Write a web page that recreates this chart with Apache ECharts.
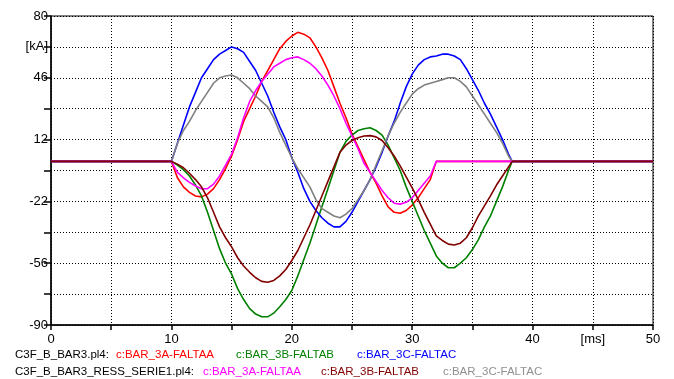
<!DOCTYPE html>
<html>
<head>
<meta charset="utf-8">
<script src="https://cdn.jsdelivr.net/npm/echarts@6/dist/echarts.min.js"></script>
<style>
  html, body { margin: 0; padding: 0; background: #fff; }
  #chart { width: 674px; height: 379px; }
</style>
</head>
<body>
<div id="chart"></div>
<script>
// time axis [ms], shared by all six traces
var timeMs = [0,
  10, 10.5, 11, 11.5, 12, 12.5, 13, 13.5, 14, 14.5, 15, 15.5, 16, 16.5, 17, 17.5, 18, 18.5, 19, 19.5,
  20, 20.5, 21, 21.5, 22, 22.5, 23, 23.5, 24, 24.5, 25, 25.5, 26, 26.5, 27, 27.5, 28, 28.5, 29, 29.5,
  30, 30.5, 31, 31.5, 32, 32.5, 33, 33.5, 34, 34.5, 35, 35.5, 36, 36.5, 37, 37.5, 38,
  38.3, 50];

// C3F_B_BAR3.pl4 [kA]
var bar3A = [0,
  0, -9, -14, -17, -19, -19.5, -18, -15, -10, -4, 3, 12, 22, 29, 36, 44, 50, 56, 62, 66,
  69, 71, 70, 68, 63, 57, 50, 41, 32, 24, 15, 8, 1, -6, -12, -19, -25, -28, -28.5, -27,
  -24, -20, -15, -10, 0, 0, 0, 0, 0, 0, 0, 0, 0, 0, 0, 0, 0,
  0, 0];
var bar3B = [0,
  0, -2, -4.5, -8, -13, -19, -28, -38, -48, -56, -62, -70, -76, -81, -84, -85.5, -85.5, -83.5, -80, -76,
  -71, -63, -54, -45, -35, -25, -15, -5, 5, 11, 14.5, 17, 18, 18.5, 17, 14.5, 9, 2, -5, -14,
  -22, -30, -38, -45, -52, -56, -58.5, -58.5, -56, -53, -48.5, -43, -36, -30, -22, -14, -5,
  0, 0];
var bar3C = [0,
  0, 10, 20, 30, 38, 46, 51, 56, 59, 61, 63, 62, 60, 55, 50, 43, 36, 27, 19, 12,
  2, -6, -15, -22, -27, -31, -34, -36, -36, -33, -28, -22, -16, -10, -3, 5, 14, 22, 32, 41,
  48, 53, 56, 57.5, 58, 59, 59, 58, 56, 51, 45, 39, 32, 26, 19, 12, 4,
  0, 0];

// C3F_B_BAR3_RESS_SERIE1.pl4 [kA]
var ress3A = [0,
  0, -6, -9, -11.5, -13.5, -15, -15, -12.5, -8, -2, 4, 13, 24, 33, 39, 44, 48, 52, 54, 56,
  57, 57.5, 56, 54, 51, 47, 42, 36, 29, 21, 14, 7, -1, -6, -11, -16, -20, -23, -23.5, -22.5,
  -20, -16, -12, -8, 0, 0, 0, 0, 0, 0, 0, 0, 0, 0, 0, 0, 0,
  0, 0];
var ress3B = [0,
  0, -1.5, -3.5, -6.5, -10, -14, -20, -28, -36, -42, -47, -53, -57.5, -61, -64, -66, -66.5, -65.5, -63, -59.5,
  -54.5, -49, -42, -35, -27, -19, -11, -3, 5, 9, 11.5, 13, 14, 14.2, 13.5, 11.5, 7.5, 3, -2.5, -8.5,
  -14.5, -21, -28, -34.5, -41, -43.5, -45.5, -46, -45, -42, -36.5, -30, -24.5, -19, -13, -8, -3,
  0, 0];
var ress3C = [0,
  0, 10, 17, 22, 28, 33, 38, 43, 46, 47, 47.5, 46, 43, 40, 36, 33, 30, 24, 16, 9,
  2, -4, -9, -14, -21, -26, -28, -30, -31, -29, -26, -21, -16, -10, -2, 6, 14, 21, 27, 32,
  37, 40, 42, 43, 44, 45, 46, 46, 44, 41, 36, 31, 26, 21, 16, 10, 3,
  0, 0];

// y axis tick labels, bottom to top (-90 .. 80 step 17)
var yTickLabels = ['-90', '', '-56', '', '-22', '', '12', '', '46', '[kA]', '80'];

var FONT = '"Liberation Sans", Arial, sans-serif';

function pairs(values) {
  return timeMs.map(function (t, i) { return [t, values[i]]; });
}

function trace(name, values, color) {
  return {
    name: name,
    type: 'line',
    xAxisIndex: 0,
    yAxisIndex: 0,
    data: pairs(values),
    showSymbol: false,
    animation: false,
    lineStyle: { color: color, width: 1.6 },
    itemStyle: { color: color }
  };
}

function legendText(x, y, text, color) {
  return {
    type: 'text', left: x, top: y,
    style: { text: text, fill: color, font: '11.5px ' + FONT }
  };
}

var chart = echarts.init(document.getElementById('chart'), null, { renderer: 'canvas' });

var option = {
  backgroundColor: '#ffffff',
  animation: false,
  grid: {
    left: 51, right: 21, top: 16, bottom: 54,
    show: true, borderColor: '#000', borderWidth: 1, backgroundColor: 'transparent'
  },
  xAxis: [{
    type: 'value',
    min: 0, max: 50, interval: 5,
    axisLine: { show: true, onZero: false, lineStyle: { color: '#000', width: 1.5 } },
    axisTick: { show: true, length: 5, lineStyle: { color: '#000', width: 1.5 } },
    axisLabel: {
      color: '#000', fontSize: 13, fontFamily: FONT, margin: 8,
      formatter: function (v) {
        if (v === 45) return '[ms]';
        return v % 10 === 0 ? String(v) : '';
      }
    },
    splitLine: { show: true, lineStyle: { color: '#000', type: [1, 2], width: 1 } }
  }],
  yAxis: [{
    type: 'value',
    min: -90, max: 80,
    show: false,
    splitLine: { show: false }
  }, {
    type: 'category',
    data: yTickLabels,
    boundaryGap: false,
    position: 'left',
    axisLine: { show: true, onZero: false, lineStyle: { color: '#000', width: 1.5 } },
    axisTick: { show: true, length: 7, alignWithLabel: true, lineStyle: { color: '#000', width: 1.5 } },
    axisLabel: { color: '#000', fontSize: 13, fontFamily: FONT, margin: 3, interval: 0 },
    splitLine: { show: true, interval: 0, lineStyle: { color: '#000', type: [1, 2], width: 1 } }
  }],
  series: [
    trace('c:BAR_3A-FALTAA', bar3A, '#ff0000'),
    trace('c:BAR_3B-FALTAB', bar3B, '#008000'),
    trace('c:BAR_3C-FALTAC', bar3C, '#0000ff'),
    trace('c:BAR_3C-FALTAC (ress)', ress3C, '#808080'),
    trace('c:BAR_3A-FALTAA (ress)', ress3A, '#ff00ff'),
    trace('c:BAR_3B-FALTAB (ress)', ress3B, '#800000')
  ],
  graphic: [
    legendText(15, 349, 'C3F_B_BAR3.pl4:', '#000'),
    legendText(116, 349, 'c:BAR_3A-FALTAA', '#ff0000'),
    legendText(236, 349, 'c:BAR_3B-FALTAB', '#008000'),
    legendText(357, 349, 'c:BAR_3C-FALTAC', '#0000ff'),
    legendText(15, 366, 'C3F_B_BAR3_RESS_SERIE1.pl4:', '#000'),
    legendText(203, 366, 'c:BAR_3A-FALTAA', '#ff00ff'),
    legendText(321, 366, 'c:BAR_3B-FALTAB', '#800000'),
    legendText(443, 366, 'c:BAR_3C-FALTAC', '#909090')
  ]
};

chart.setOption(option);
</script>
</body>
</html>
